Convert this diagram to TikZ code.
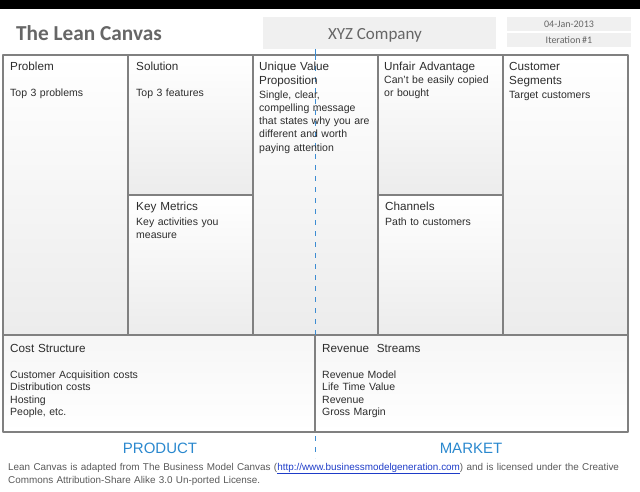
\documentclass[tikz,border=0pt]{standalone}
\usepackage{fontspec}
\setmainfont{Liberation Sans}
\newfontfamily\calibri{Carlito}
\definecolor{grille}{RGB}{128,128,128}
\definecolor{bleu}{RGB}{42,136,206}
\definecolor{tiret}{RGB}{60,140,210}
\definecolor{texte}{RGB}{45,45,45}
\definecolor{lien}{RGB}{30,60,200}
\begin{document}
\begin{tikzpicture}[line join=round,x=1pt,y=-1pt,
	cell/.style={draw=grille,line width=1.3pt,top color=white,bottom color=gray!15},
	cellbas/.style={draw=grille,line width=1.3pt,top color=gray!7,bottom color=white},
	ttl/.style={anchor=base west,inner sep=0pt,text width=118pt,align=left,text=texte,font=\fontsize{11.7}{14.3}\selectfont},
	txt/.style={anchor=base west,inner sep=0pt,text width=120pt,align=left,text=texte,font=\fontsize{10.5}{13.2}\selectfont},
	entete/.style={fill=gray!12,inner sep=0pt,text=gray!80!black}]
		\useasboundingbox (0,0) rectangle (640,492);
		% bandeau
		\fill[black] (0,0) rectangle (640,9);
		\node[anchor=base west,inner sep=0pt,text=gray!80!black,font=\calibri\bfseries\fontsize{21.3}{24}\selectfont] (titre) at (16,41) {The Lean Canvas};
		\node[entete,minimum width=233pt,minimum height=32pt,font=\calibri\fontsize{17}{20}\selectfont] (societe) at (379.5,33) {};
		\node[anchor=base,inner sep=0pt,text=gray!80!black,font=\calibri\fontsize{17}{20}\selectfont] (nom) at (375,40) {XYZ Company};
		\node[entete,minimum width=124pt,minimum height=14pt,font=\calibri\fontsize{10}{11}\selectfont] (date) at (569,24) {04-Jan-2013};
		\node[entete,minimum width=124pt,minimum height=14pt,font=\calibri\fontsize{10}{11}\selectfont] (iter) at (569,40) {Iteration\,\#1};
		% cases du haut
		\path[cell] (3,55) rectangle (128,335);
		\path[cell] (128,55) rectangle (253,195);
		\path[cell] (128,195) rectangle (253,335);
		\path[cell] (253,55) rectangle (378,335);
		\path[cell] (378,55) rectangle (503,195);
		\path[cell] (378,195) rectangle (503,335);
		\path[cell] (503,55) rectangle (628,335);
		% cases du bas
		\path[cellbas] (3,335) rectangle (315,432);
		\path[cellbas] (315,335) rectangle (628,432);
		% separation produit / marche
		\coordinate (s1) at (315,49);
		\coordinate (s2) at (315,55);
		\coordinate (s3) at (315,335);
		\coordinate (s4) at (315,436);
		\coordinate (s5) at (315,458);
		\draw[tiret,line width=0.8pt] (s1)--(s2);
		\draw[tiret,line width=0.8pt,dash pattern=on 5pt off 6pt] (s2)--(s3);
		\draw[tiret,line width=0.8pt,dash pattern=on 5pt off 6pt] (s4)--(s5);
		% textes
		\node[ttl] (pb) at (10,70.7) {Problem};
		\node[txt] (pbt) at (10,96.7) {Top 3 problems};
		\node[ttl] (so) at (136,70.7) {Solution};
		\node[txt] (sot) at (136,96.7) {Top 3 features};
		\node[ttl] (km) at (136,211) {Key Metrics};
		\node[txt] (kmt) at (136,225) {Key activities you\\measure};
		\node[ttl] (uvp) at (259,70.7) {Unique Value\\Proposition};
		\node[txt] (uvpt) at (259,98.3) {Single, clear,\\compelling message\\that states why you are\\different and worth\\paying attention};
		\node[ttl] (ua) at (384,70.7) {Unfair Advantage};
		\node[txt] (uat) at (384,83.3) {Can't be easily copied\\or bought};
		\node[ttl] (ch) at (385,211) {Channels};
		\node[txt] (cht) at (385,225) {Path to customers};
		\node[ttl] (cs) at (509,70.7) {Customer\\Segments};
		\node[txt] (cst) at (509,98.3) {Target customers};
		\node[ttl,text width=280pt] (co) at (10,352) {Cost Structure};
		\node[txt,text width=280pt,font=\fontsize{10.5}{12.6}\selectfont] (cot) at (10,378) {Customer Acquisition costs\\Distribution costs\\Hosting\\People, etc.};
		\node[ttl,text width=280pt] (re) at (322,352) {Revenue~ Streams};
		\node[txt,text width=280pt,font=\fontsize{10.5}{12.6}\selectfont] (ret) at (322,378) {Revenue Model\\Life Time Value\\Revenue\\Gross Margin};
		% pied
		\node[anchor=base,inner sep=0pt,text=bleu,font=\fontsize{15}{18}\selectfont] (prod) at (160,453) {PRODUCT};
		\node[anchor=base,inner sep=0pt,text=bleu,font=\fontsize{15}{18}\selectfont] (mark) at (471,453) {MARKET};
		\node[anchor=base west,inner sep=0pt,text width=632pt,align=left,text=gray!70!black,font=\fontsize{9.9}{13}\selectfont] (note) at (8,470) {Lean Canvas is adapted from The Business Model Canvas ({\color{lien}\underline{http://www.businessmodelgeneration.com}}) and is licensed under the Creative\\Commons Attribution-Share Alike 3.0 Un-ported License.};
\end{tikzpicture}
\end{document}
